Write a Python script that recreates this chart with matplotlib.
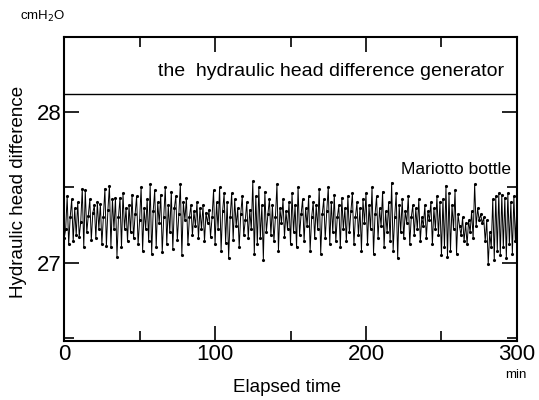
import matplotlib
matplotlib.use("Agg")
import matplotlib.pyplot as plt
from matplotlib.ticker import MultipleLocator

plt.rcParams['font.family'] = ['Liberation Sans', 'DejaVu Sans']

# sampling every minute, 0..300 min
elapsed_min = list(range(0, 301))

# Mariotto bottle head difference (cmH2O)
mariotto = [
    27.16, 27.22, 27.44, 27.12, 27.30, 27.42, 27.14, 27.36, 27.18, 27.40,
    27.17, 27.27, 27.49, 27.10, 27.48, 27.20, 27.31, 27.42, 27.15, 27.33,
    27.38, 27.16, 27.40, 27.22, 27.39, 27.12, 27.30, 27.49, 27.11, 27.35,
    27.51, 27.10, 27.42, 27.22, 27.43, 27.04, 27.30, 27.43, 27.10, 27.46,
    27.22, 27.36, 27.14, 27.38, 27.20, 27.45, 27.16, 27.32, 27.44, 27.12,
    27.28, 27.50, 27.08, 27.36, 27.22, 27.42, 27.14, 27.52, 27.06, 27.34,
    27.48, 27.10, 27.40, 27.26, 27.45, 27.07, 27.30, 27.50, 27.12, 27.38,
    27.20, 27.47, 27.09, 27.36, 27.44, 27.15, 27.32, 27.52, 27.05, 27.40,
    27.28, 27.43, 27.12, 27.30, 27.38, 27.18, 27.34, 27.24, 27.40, 27.16,
    27.36, 27.22, 27.38, 27.14, 27.33, 27.26, 27.35, 27.17, 27.30, 27.48,
    27.12, 27.40, 27.22, 27.50, 27.08, 27.34, 27.46, 27.13, 27.40, 27.03,
    27.30, 27.46, 27.15, 27.42, 27.24, 27.36, 27.10, 27.32, 27.44, 27.18,
    27.28, 27.40, 27.16, 27.35, 27.22, 27.54, 27.06, 27.44, 27.12, 27.50,
    27.16, 27.38, 27.02, 27.47, 27.20, 27.32, 27.42, 27.18, 27.38, 27.14,
    27.30, 27.52, 27.08, 27.36, 27.26, 27.42, 27.17, 27.34, 27.22, 27.40,
    27.12, 27.46, 27.20, 27.38, 27.10, 27.50, 27.18, 27.32, 27.42, 27.14,
    27.36, 27.24, 27.44, 27.08, 27.30, 27.40, 27.16, 27.38, 27.22, 27.49,
    27.06, 27.32, 27.42, 27.16, 27.34, 27.50, 27.12, 27.40, 27.20, 27.45,
    27.14, 27.30, 27.38, 27.10, 27.43, 27.22, 27.36, 27.14, 27.44, 27.20,
    27.34, 27.46, 27.12, 27.30, 27.40, 27.18, 27.36, 27.08, 27.42, 27.26,
    27.46, 27.12, 27.38, 27.22, 27.50, 27.06, 27.32, 27.44, 27.16, 27.36,
    27.24, 27.47, 27.10, 27.34, 27.20, 27.40, 27.14, 27.53, 27.08, 27.30,
    27.46, 27.03, 27.38, 27.20, 27.42, 27.16, 27.34, 27.26, 27.44, 27.12,
    27.30, 27.38, 27.18, 27.36, 27.22, 27.42, 27.14, 27.30, 27.24, 27.38,
    27.16, 27.34, 27.28, 27.40, 27.12, 27.36, 27.22, 27.44, 27.18, 27.40,
    27.05, 27.42, 27.10, 27.51, 27.04, 27.46, 27.08, 27.38, 27.22, 27.48,
    27.06, 27.32, 27.24, 27.18, 27.30, 27.14, 27.26, 27.12, 27.28, 27.20,
    27.34, 27.16, 27.52, 27.24, 27.36, 27.28, 27.32, 27.26, 27.30, 27.14,
    27.28, 26.99, 27.20, 27.10, 27.42, 27.02, 27.44, 27.08, 27.46, 27.05,
    27.45, 27.10, 27.43, 27.03, 27.46, 27.12, 27.40, 27.06, 27.44, 27.14,
    27.38,
]

generator_level = 28.12  # constant head from the generator

fig = plt.figure(figsize=(5.39, 4.0), dpi=100)
ax = fig.add_axes([0.119, 0.148, 0.840, 0.760])

ax.plot(elapsed_min, mariotto, color='black', lw=0.7, marker='.', ms=2.5)
ax.axhline(generator_level, color='black', lw=1.0)

ax.set_xlim(0, 300)
ax.set_ylim(26.48, 28.5)

ax.xaxis.set_major_locator(MultipleLocator(100))
ax.xaxis.set_minor_locator(MultipleLocator(50))
ax.yaxis.set_major_locator(MultipleLocator(1))
ax.yaxis.set_minor_locator(MultipleLocator(0.5))
ax.tick_params(which='both', direction='in', top=True, right=True, width=1.2)
ax.tick_params(which='major', length=11, labelsize=16, pad=2)
ax.tick_params(which='minor', length=7)
ax.set_yticks([27, 28], ['27', '28'])
for s in ax.spines.values():
    s.set_linewidth(1.5)

ax.text(0.59, 0.885, 'the  hydraulic head difference generator', transform=ax.transAxes,
        ha='center', va='center', fontsize=14)
ax.text(0.988, 0.565, 'Mariotto bottle', transform=ax.transAxes,
        ha='right', va='center', fontsize=12.5)

fig.text(0.034, 0.52, 'Hydraulic head difference', rotation=90, ha='center', va='center', fontsize=13.5)
fig.text(0.532, 0.03, 'Elapsed time', ha='center', va='center', fontsize=13.5)
fig.text(0.038, 0.96, 'cmH$_2$O', ha='left', va='center', fontsize=9.5)
fig.text(0.938, 0.062, 'min', ha='left', va='center', fontsize=9.5)

fig.savefig('out.png', dpi=100)
